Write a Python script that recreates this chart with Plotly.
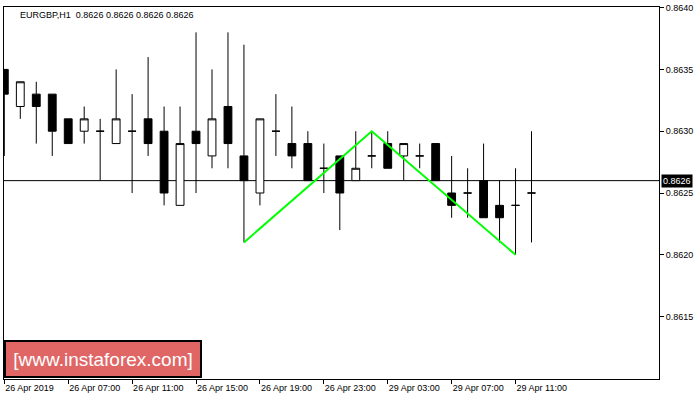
import plotly.graph_objects as go

# ---- data ----
bar_index = list(range(34))
opens = [0.8635, 0.8632, 0.8633, 0.8633, 0.8631, 0.8630, 0.8630, 0.8629, 0.8630, 0.8631,
         0.8630, 0.8624, 0.8630, 0.8628, 0.8632, 0.8628, 0.8625, 0.8630, 0.8629, 0.8629,
         0.8627, 0.8628, 0.8626, 0.8628, 0.8629, 0.8628, 0.8628, 0.8629, 0.8625, 0.8625,
         0.8626, 0.8624, 0.8624, 0.8625]
highs = [0.8635, 0.8634, 0.8634, 0.8633, 0.8631, 0.8632, 0.8631, 0.8635, 0.8633, 0.8636,
         0.8632, 0.8632, 0.8638, 0.8635, 0.8638, 0.8637, 0.8631, 0.8633, 0.8632, 0.8630,
         0.8629, 0.8628, 0.8630, 0.8630, 0.8630, 0.8629, 0.8629, 0.8629, 0.8628, 0.8627,
         0.8629, 0.8626, 0.8627, 0.8630]
lows = [0.8628, 0.8631, 0.8629, 0.8628, 0.8629, 0.8629, 0.8626, 0.8629, 0.8625, 0.8628,
        0.8624, 0.8624, 0.8625, 0.8627, 0.8627, 0.8621, 0.8624, 0.8628, 0.8627, 0.8626,
        0.8625, 0.8622, 0.8626, 0.8627, 0.8627, 0.8626, 0.8627, 0.8626, 0.8623, 0.8623,
        0.8623, 0.8621, 0.8620, 0.8621]
closes = [0.8633, 0.8634, 0.8632, 0.8630, 0.8629, 0.8631, 0.8630, 0.8631, 0.8630, 0.8629,
          0.8625, 0.8629, 0.8629, 0.8631, 0.8629, 0.8626, 0.8631, 0.8630, 0.8628, 0.8626,
          0.8627, 0.8625, 0.8627, 0.8628, 0.8627, 0.8629, 0.8628, 0.8626, 0.8624, 0.8625,
          0.8623, 0.8623, 0.8624, 0.8625]

tick_bars = [0, 4, 8, 12, 16, 20, 24, 28, 32]
tick_labels = ["26 Apr 2019", "26 Apr 07:00", "26 Apr 11:00", "26 Apr 15:00", "26 Apr 19:00",
               "26 Apr 23:00", "29 Apr 03:00", "29 Apr 07:00", "29 Apr 11:00"]
price_ticks = [0.8615, 0.8620, 0.8625, 0.8630, 0.8635, 0.8640]

pattern_bars = [15, 23, 32]
pattern_prices = [0.8621, 0.8630, 0.8620]

current_price = 0.8626
title_text = "EURGBP,H1  0.8626 0.8626 0.8626 0.8626"
watermark = "[www.instaforex.com]"

FONT = "Liberation Sans, Arial, sans-serif"

fig = go.Figure()
fig.add_trace(go.Candlestick(
    x=bar_index, open=opens, high=highs, low=lows, close=closes,
    increasing=dict(fillcolor="white", line=dict(color="black", width=1)),
    decreasing=dict(fillcolor="black", line=dict(color="black", width=1)),
    whiskerwidth=0, hoverinfo="skip", showlegend=False,
))
fig.add_trace(go.Scatter(
    x=pattern_bars, y=pattern_prices, mode="lines",
    line=dict(color="#00ff00", width=2), hoverinfo="skip", showlegend=False,
))

fig.add_shape(type="line", xref="paper", x0=0, x1=1, yref="y",
              y0=current_price, y1=current_price,
              line=dict(color="black", width=1), layer="below")

fig.add_annotation(xref="paper", yref="paper", x=0.021, y=0.978, xanchor="left", yanchor="middle",
                   text=title_text, showarrow=False, font=dict(family=FONT, size=9, color="black"))

fig.add_annotation(xref="paper", yref="y", x=1.003, y=current_price, xanchor="left", yanchor="middle",
                   text="0.8626", showarrow=False, bgcolor="black", borderpad=1,
                   font=dict(family=FONT, size=9, color="white"))

fig.add_annotation(xref="paper", yref="paper", x=0.0, y=0.003, xanchor="left", yanchor="bottom",
                   text=watermark, showarrow=False, bgcolor="#E06666",
                   bordercolor="black", borderwidth=2, borderpad=3, width=188, height=28,
                   font=dict(family=FONT, size=19, color="white"))

fig.update_layout(
    width=700, height=400,
    margin=dict(l=3, r=41, t=3, b=21),
    paper_bgcolor="white", plot_bgcolor="white",
    font=dict(family=FONT, size=9, color="black"),
    showlegend=False,
    xaxis=dict(range=[-0.02, 40.98], tickmode="array", tickvals=tick_bars, ticktext=tick_labels,
               ticks="outside", ticklen=4, tickcolor="black", showgrid=False, zeroline=False,
               showline=True, linecolor="black", linewidth=1, mirror=True,
               rangeslider=dict(visible=False), ticklabelposition="outside right",
               tickfont=dict(family=FONT, size=9, color="black"), fixedrange=True),
    yaxis=dict(range=[0.860995, 0.864005], side="right", tickmode="array", tickvals=price_ticks,
               tickformat=".4f", ticks="outside", ticklen=4, tickcolor="black",
               ticklabeloverflow="allow",
               showgrid=False, zeroline=False, showline=True, linecolor="black", linewidth=1,
               mirror=True, tickfont=dict(family=FONT, size=9, color="black"), fixedrange=True),
)

fig.write_html("out.html", config={"displayModeBar": False},
               post_script="document.body.style.margin='0';document.body.style.overflow='hidden';")
